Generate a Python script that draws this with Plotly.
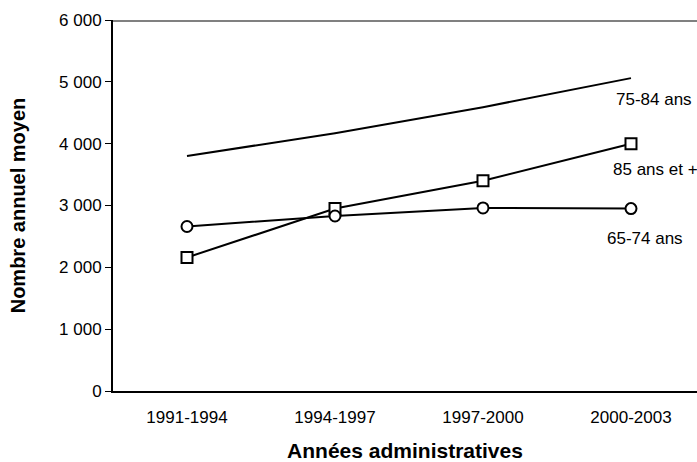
import plotly.graph_objects as go

periods = ["1991-1994", "1994-1997", "1997-2000", "2000-2003"]
age_75_84 = [3800, 4170, 4590, 5060]
age_85_plus = [2160, 2950, 3400, 4000]
age_65_74 = [2660, 2830, 2960, 2950]
series_names = ["75-84 ans", "85 ans et +", "65-74 ans"]
y_ticks = [0, 1000, 2000, 3000, 4000, 5000, 6000]
y_tick_text = ["0", "1 000", "2 000", "3 000", "4 000", "5 000", "6 000"]

font = "Liberation Sans, Arial, sans-serif"

fig = go.Figure()
fig.add_trace(go.Scatter(x=periods, y=age_75_84, mode="lines", name=series_names[0],
                         line=dict(color="black", width=2)))
fig.add_trace(go.Scatter(x=periods, y=age_85_plus, mode="lines+markers", name=series_names[1],
                         line=dict(color="black", width=2),
                         marker=dict(symbol="square", size=11, color="white",
                                     line=dict(color="black", width=2))))
fig.add_trace(go.Scatter(x=periods, y=age_65_74, mode="lines+markers", name=series_names[2],
                         line=dict(color="black", width=2),
                         marker=dict(symbol="circle", size=11, color="white",
                                     line=dict(color="black", width=2))))

# labels under the last points
last_vals = [age_75_84[-1], age_85_plus[-1], age_65_74[-1]]
label_dx = [23, 25, 14]
label_dy = [-21, -26, -30]
for name, v, dx, dy in zip(series_names, last_vals, label_dx, label_dy):
    fig.add_annotation(x=periods[-1], y=v, text=name, showarrow=False,
                       xanchor="center", yanchor="middle", xshift=dx, yshift=dy,
                       font=dict(family=font, size=17, color="black"))

# gray top border
fig.add_shape(type="line", xref="paper", yref="paper", x0=0, x1=1, y0=0.997, y1=0.997,
              layer="above", line=dict(color="#808080", width=2))

fig.update_layout(
    width=697, height=462,
    margin=dict(l=113, r=0, t=20, b=71),
    paper_bgcolor="white", plot_bgcolor="white",
    showlegend=False,
    font=dict(family=font, size=17, color="black"),
    xaxis=dict(
        type="category", range=[-0.5, 3.446],
        showline=True, linecolor="black", linewidth=2,
        showgrid=False, zeroline=False,
        ticks="outside", ticklen=10, tickcolor="rgba(0,0,0,0)",
        tickfont=dict(family=font, size=17, color="black"),
        title=dict(text="<b>Années administratives</b>", standoff=18,
                   font=dict(family=font, size=21, color="black")),
    ),
    yaxis=dict(
        range=[0, 6000], tickvals=y_ticks, ticktext=y_tick_text,
        showline=True, linecolor="black", linewidth=2,
        showgrid=False, zeroline=False,
        ticks="outside", ticklen=6, tickcolor="black", tickwidth=1,
        tickfont=dict(family=font, size=17, color="black"),
        title=dict(text="<b>Nombre annuel moyen</b>", standoff=28,
                   font=dict(family=font, size=20, color="black")),
    ),
)

fig.write_html(
    "out.html",
    config={"displayModeBar": False},
    post_script="document.body.style.margin='0';document.body.style.overflow='hidden';",
)
